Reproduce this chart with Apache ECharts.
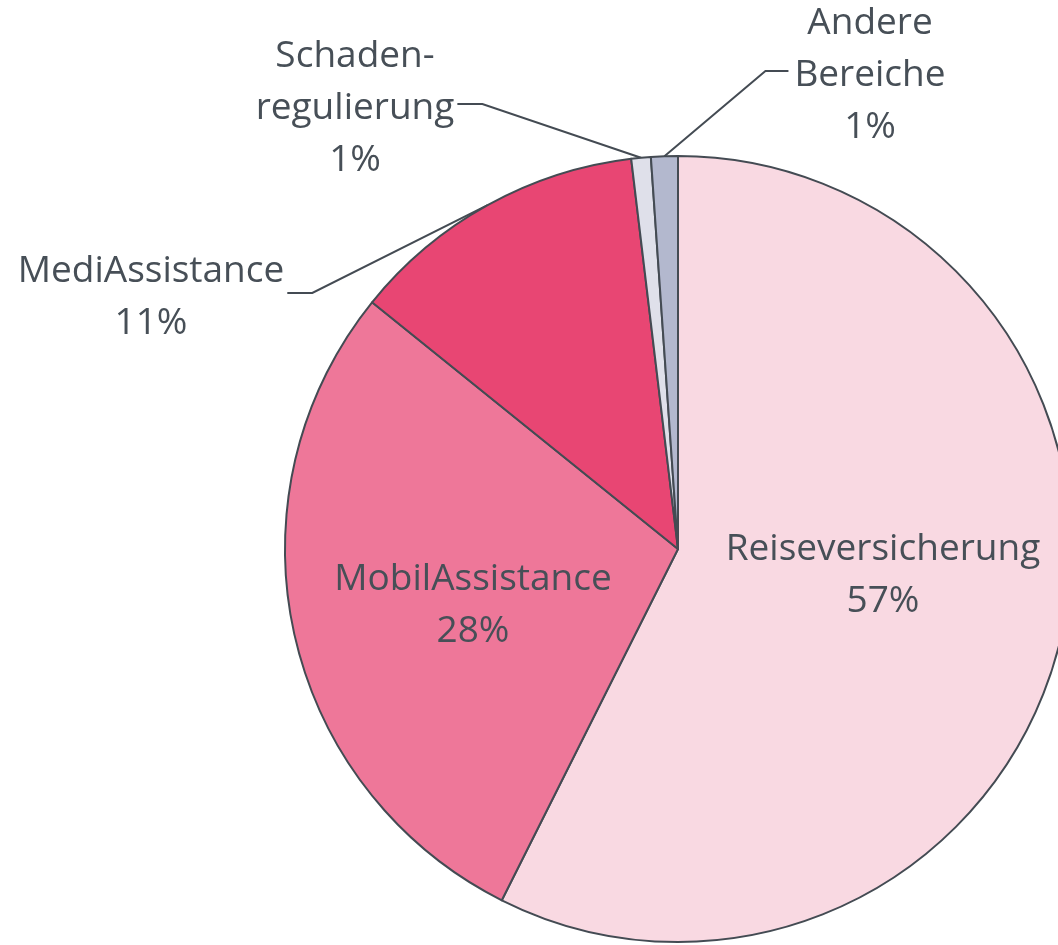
<!DOCTYPE html>
<html>
<head>
<meta charset="utf-8">
<script src="https://cdn.jsdelivr.net/npm/echarts@6/dist/echarts.min.js"></script>
<style>
  html, body { margin: 0; padding: 0; background: #ffffff; }
  #chart { width: 1058px; height: 945px; }
</style>
</head>
<body>
<div id="chart"></div>
<script>
// Segment names (display text), shares, printed percentages
const categories = ['Reiseversicherung', 'MobilAssistance', 'MediAssistance', 'Schaden-\nregulierung', 'Andere\nBereiche'];
const values = [57.4, 28.4, 12.3, 0.8, 1.1];
const percentLabels = ['57%', '28%', '11%', '1%', '1%'];
const colors = ['#F9D9E2', '#EE7799', '#E84673', '#DFE0EA', '#B3B8CE'];

// label placement (label centre, in px) and which side the leader attaches
const labelSpots = [
  { x: 883, y: 575, inside: true },
  { x: 473, y: 605, inside: true },
  { x: 151, y: 297, side: 'right' },
  { x: 355, y: 108, side: 'right' },
  { x: 870, y: 75, side: 'left' }
];

const chart = echarts.init(document.getElementById('chart'), null, { renderer: 'canvas' });

const data = categories.map((name, i) => ({
  name: name,
  value: values[i],
  pct: percentLabels[i],
  itemStyle: { color: colors[i] },
  label: { position: labelSpots[i].inside ? 'inside' : 'outside' },
  labelLine: { show: !labelSpots[i].inside }
}));

chart.setOption({
  animation: false,
  series: [{
    type: 'pie',
    center: [678, 549],
    radius: 393,
    startAngle: 90,
    clockwise: true,
    avoidLabelOverlap: false,
    silent: true,
    itemStyle: { borderColor: '#444B53', borderWidth: 2 },
    label: {
      show: true,
      color: '#474F57',
      fontFamily: 'Open Sans',
      fontSize: 37,
      lineHeight: 52,
      align: 'center',
      formatter: p => p.name + '\n' + p.data.pct
    },
    labelLine: {
      show: true,
      lineStyle: { color: '#444B53', width: 2 }
    },
    labelLayout: function (params) {
      const s = labelSpots[params.dataIndex];
      const out = { x: s.x, y: s.y, align: 'center', verticalAlign: 'middle' };
      if (!s.inside && params.labelLinePoints) {
        const w = params.labelRect.width;
        const edgeX = s.side === 'right' ? s.x + w / 2 + 3 : s.x - w / 2 - 6;
        const kneeX = s.side === 'right' ? edgeX + 25 : edgeX - 23;
        const lineY = s.y - 4;
        out.labelLinePoints = [params.labelLinePoints[0], [kneeX, lineY], [edgeX, lineY]];
      }
      return out;
    },
    data: data
  }]
});
</script>
</body>
</html>
